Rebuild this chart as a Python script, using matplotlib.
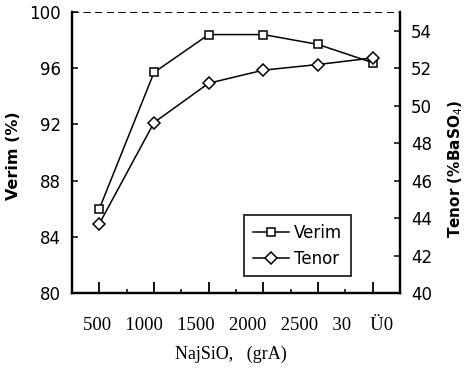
import matplotlib
matplotlib.use('Agg')
import matplotlib.pyplot as plt
from matplotlib.ticker import MultipleLocator

# data
x_vals = [500, 1000, 1500, 2000, 2500, 3000]
verim = [86.0, 95.7, 98.4, 98.4, 97.7, 96.4]
tenor = [43.7, 49.1, 51.2, 51.9, 52.2, 52.55]
x_text = '500   1000   1500   2000   2500   30    Ü0'
x_label = 'NajSiO,   (grA)'

narrow = ['Liberation Sans Narrow', 'DejaVu Sans Condensed', 'DejaVu Sans']
serif = ['Liberation Serif', 'DejaVu Serif']

fig = plt.figure(figsize=(4.71, 3.78), dpi=100)
ax = fig.add_axes([0.153, 0.225, 0.696, 0.743])
ax2 = ax.twinx()

l1, = ax.plot(x_vals, verim, color='black', lw=1.1, marker='s', ms=6,
              mfc='white', mec='black', mew=1.1, label='Verim')
l2, = ax2.plot(x_vals, tenor, color='black', lw=1.1, marker='D', ms=6,
               mfc='white', mec='black', mew=1.1, label='Tenor')

ax.set_xlim(250, 3250)
ax.set_ylim(80, 100)
ax2.set_ylim(40, 55)

ax.xaxis.set_major_locator(MultipleLocator(500))
ax.xaxis.set_minor_locator(MultipleLocator(250))
ax.set_xticklabels([])
ax.yaxis.set_major_locator(MultipleLocator(4))
ax2.yaxis.set_major_locator(MultipleLocator(2))

ax.tick_params(axis='x', which='major', direction='in', length=8, width=1.3)
ax.tick_params(axis='x', which='minor', direction='in', length=3, width=1.1)
ax.tick_params(axis='y', direction='in', length=4, width=1.1, labelsize=12, pad=8)
ax2.tick_params(axis='y', direction='in', length=4, width=1.1, labelsize=12, pad=8)
for lab in ax.get_yticklabels() + ax2.get_yticklabels():
    lab.set_family(narrow)

for a in (ax, ax2):
    for side in ('left', 'right', 'bottom'):
        a.spines[side].set_linewidth(1.6)
    a.spines['top'].set_linestyle((0, (6, 6)))
    a.spines['top'].set_linewidth(0.7)

ax.set_ylabel('Verim (%)', fontsize=11.5, fontweight='bold')
ax.yaxis.set_label_coords(-0.155, 0.49)
ax2.set_ylabel('Tenor (%BaSO$_4$)', fontsize=11, fontweight='bold')
ax2.yaxis.set_label_coords(1.143, 0.44)

fig.text(0.506, 0.138, x_text, family=serif, fontsize=13.5, ha='center', va='center')
fig.text(0.49, 0.062, x_label, family=serif, fontsize=13, ha='center', va='center')

leg = ax2.legend(handles=[l1, l2], loc='lower left', bbox_to_anchor=(0.5, 0.03),
                 frameon=True, fancybox=False, edgecolor='black',
                 handlelength=2.2, handletextpad=0.3, borderpad=0.5,
                 prop={'family': narrow, 'size': 12})
leg.get_frame().set_linewidth(1.4)

fig.savefig('out.png', dpi=100)
